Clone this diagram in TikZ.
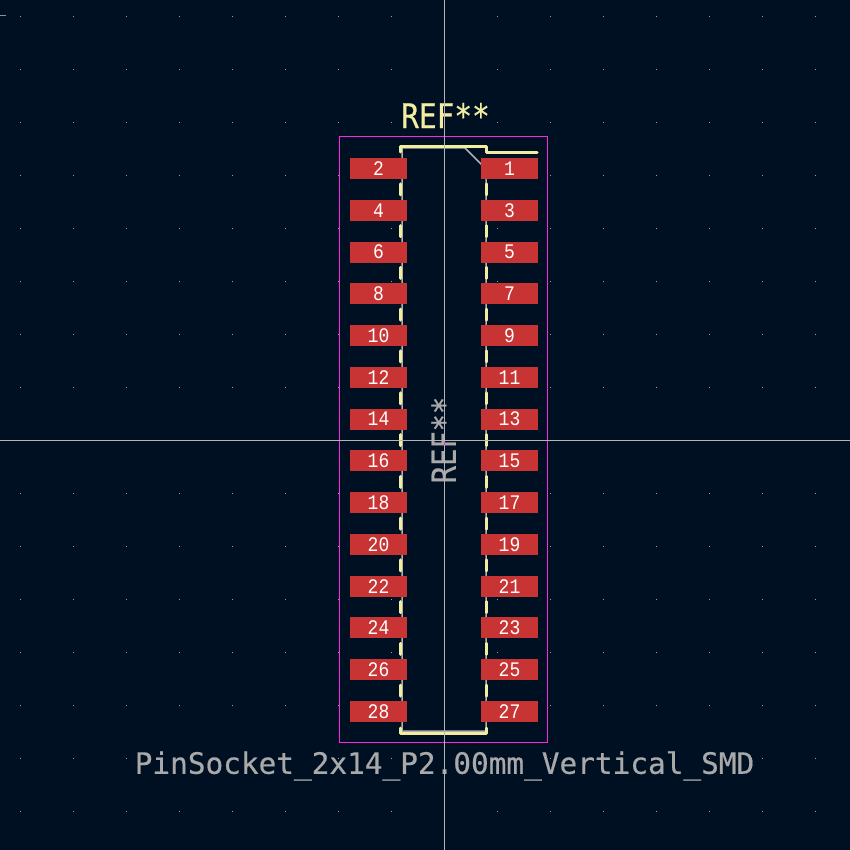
\documentclass[tikz,border=0pt]{standalone}
\usepackage{fontspec}
\setmonofont{DejaVu Sans Mono}
\newfontfamily\padfont{Liberation Mono}
\newfontfamily\strokefont[FakeBold=0.5]{DejaVu Sans Mono}
\definecolor{bgc}{HTML}{001023}
\definecolor{padc}{HTML}{C83434}
\definecolor{silkc}{HTML}{F2EDA1}
\definecolor{fabc}{HTML}{AFAFAF}
\definecolor{crtc}{HTML}{FF26E2}
\definecolor{gridc}{HTML}{A0A0A0}
\definecolor{axisc}{HTML}{B4B4B4}
\definecolor{txtc}{HTML}{A9A9A9}
\newcommand{\padlabel}[1]{\scalebox{1}[1.15]{#1}}
\tikzset{
  padbox/.style={fill=padc,draw=none,minimum width=57pt,minimum height=21pt,inner sep=0pt,text=white,font=\padfont\fontsize{18pt}{18pt}\selectfont},
  silk/.style={draw=silkc,line width=3pt,line cap=round,line join=round},
  fab/.style={draw=fabc,line width=1.5pt},
  crt/.style={draw=crtc,line width=1pt},
  axisline/.style={draw=axisc,line width=1pt},
  griddot/.style={fill=gridc,draw=none}
}
\begin{document}
\begin{tikzpicture}[x=1pt,y=-1pt]
\useasboundingbox (0,0) rectangle (850,850);
\fill[bgc] (0,0) rectangle (850,850);
% grid
\foreach \i in {0,...,15}{\foreach \j in {0,...,15}{
  \fill[griddot] ({20+53*\i},{16+53*\j}) rectangle ++(1,1);
}}
\draw[axisc!80!black,line width=1pt] (0,15.5) -- (6,15.5);
% fabrication outline
\coordinate (fa) at (402,148);
\coordinate (fb) at (465,148);
\coordinate (fc) at (486,169);
\coordinate (fd) at (486,731);
\coordinate (fe) at (402,731);
\draw[fab] (fa) -- (fb) -- (fc) -- (fd) -- (fe) -- cycle;
% pads
\foreach \n [count=\k from 0] in {1,3,5,7,9,11,13,15,17,19,21,23,25,27}{
  \node[padbox] (p\n) at (509.5,{168.5+41.77*\k}) {\padlabel{\n}};
}
\foreach \n [count=\k from 0] in {2,4,6,8,10,12,14,16,18,20,22,24,26,28}{
  \node[padbox] (p\n) at (378.5,{168.5+41.77*\k}) {\padlabel{\n}};
}
% silkscreen
\foreach \k in {0,...,12}{
  \pgfmathsetmacro{\yy}{168.5+41.77*\k+20.9}
  \draw[silk] (400.5,\yy-5.5) -- (400.5,\yy+5.5);
  \draw[silk] (486.7,\yy-5.5) -- (486.7,\yy+5.5);
}
\draw[silk] (400.5,152) -- (400.5,146.5) -- (486.5,146.5) -- (486.5,152.5) -- (537,152.5);
\draw[silk] (400.5,728) -- (400.5,733) -- (486.7,733) -- (486.7,728);
% courtyard
\draw[crt] (339.5,136.5) rectangle (547.5,742.5);
% texts
\node[text=silkc,inner sep=0pt] (reftop) at (445.5,115.5) {\scalebox{0.865}[1]{\strokefont\fontsize{34pt}{34pt}\selectfont REF**}};
\node[text=txtc,inner sep=0pt,rotate=90] (reffab) at (443.5,440) {\scalebox{0.87}[1]{\strokefont\fontsize{33pt}{33pt}\selectfont REF**}};
\node[text=txtc,inner sep=0pt] (val) at (444.5,766) {\strokefont\fontsize{29.4pt}{29.4pt}\selectfont PinSocket\_2x14\_P2.00mm\_Vertical\_SMD};
% axes
\draw[axisline] (444.5,0) -- (444.5,850);
\draw[axisline] (0,440.5) -- (850,440.5);
\fill[crtc] (444,442) rectangle (445,445);
\end{tikzpicture}
\end{document}
